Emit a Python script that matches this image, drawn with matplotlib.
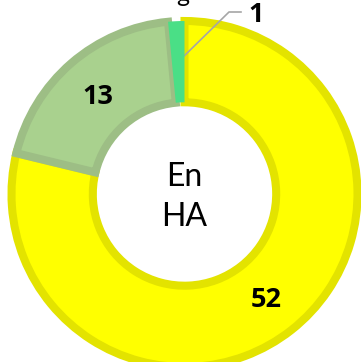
import matplotlib.pyplot as plt

# slice values, clockwise from the top
values = [52, 13, 1]
labels = ["52", "13", "1"]
fill_colors = ["#FFFF00", "#A9D18E", "#4ADF86"]
edge_colors = ["#E3E300", "#9DBE85", "#4ADF86"]
center_text = "En\nHA"

W, H = 361, 362
fig = plt.figure(figsize=(W / 100, H / 100), dpi=100)
ax = fig.add_axes([0, 0, 1, 1])

cx, cy = 184.5, H - 194
r_out = 173
ring = 0.47

wedges, _ = ax.pie(values, startangle=90, counterclock=False,
                   colors=fill_colors, radius=r_out, center=(cx, cy),
                   wedgeprops=dict(width=r_out * ring, linewidth=5.8))
for w, ec in zip(wedges, edge_colors):
    w.set_edgecolor(ec)
# tiny slice drawn without a visible border
wedges[2].set_linewidth(0)
wedges[2].set_zorder(3)

ax.set_xlim(0, W)
ax.set_ylim(0, H)
ax.set_aspect("equal")
ax.axis("off")

lab_font = dict(fontsize=19.5, fontweight="bold", family="Open Sans")
# data labels
ax.text(266, H - 300, labels[0], ha="center", va="center", **lab_font)
ax.text(98, H - 97, labels[1], ha="center", va="center", **lab_font)
ax.text(256, H - 15, labels[2], ha="center", va="center", **lab_font)
# leader line for the small slice
ax.plot([180, 229, 241], [H - 60, H - 12, H - 12], color="#A6A6A6", lw=1.2)

ax.text(cx, H - 197, center_text, ha="center", va="center",
        fontsize=23, family="Lato", linespacing=1.45)

# cut-off title descender at the very top
ax.text(183, H + 5, "g", ha="center", va="center", fontsize=18,
        family="Lato", clip_on=False)

fig.savefig("out.png", dpi=100)
